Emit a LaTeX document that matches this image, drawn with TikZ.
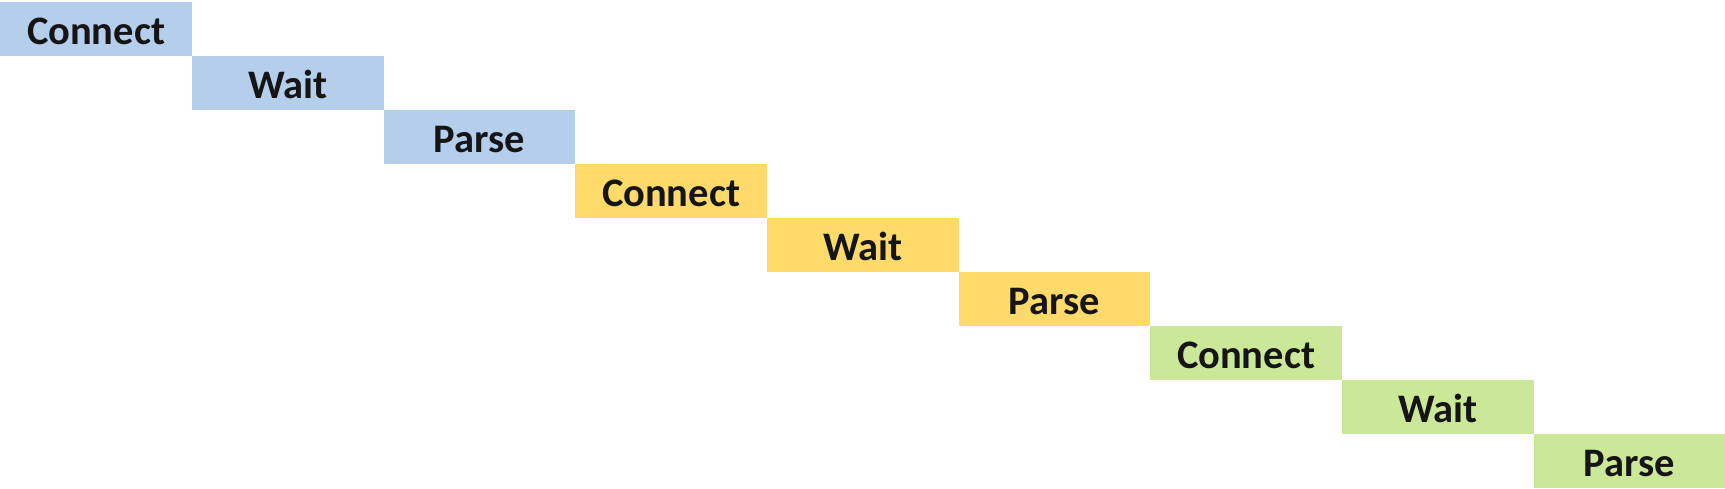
\documentclass[tikz,border=0pt]{standalone}
\usepackage{fontspec}
\setmainfont{Carlito}
\definecolor{cblue}{HTML}{B4CEEC}
\definecolor{cyellow}{HTML}{FEDA6A}
\definecolor{cgreen}{HTML}{CAE897}
\definecolor{ctext}{HTML}{151515}
\tikzset{
  stepbox/.style={fill=#1, draw=none, anchor=north west, inner sep=0pt,
    minimum width=191.67pt, minimum height=54pt, text=ctext,
    text height=34pt, text depth=4pt,
    font=\fontsize{40.5}{48}\selectfont\bfseries}
}
\begin{document}
\begin{tikzpicture}[x=1pt,y=1pt]
\useasboundingbox (0,0) rectangle (1725,-488);
\node[stepbox=cblue] (b1) at (0,-2) {Connect};
\node[stepbox=cblue] (b2) at (191.67,-56) {Wait};
\node[stepbox=cblue] (b3) at (383.33,-110) {Parse};
\node[stepbox=cyellow] (b4) at (575,-164) {Connect};
\node[stepbox=cyellow] (b5) at (766.67,-218) {Wait};
\node[stepbox=cyellow] (b6) at (958.33,-272) {Parse};
\node[stepbox=cgreen] (b7) at (1150,-326) {Connect};
\node[stepbox=cgreen] (b8) at (1341.67,-380) {Wait};
\node[stepbox=cgreen] (b9) at (1533.33,-434) {Parse};
\end{tikzpicture}
\end{document}
